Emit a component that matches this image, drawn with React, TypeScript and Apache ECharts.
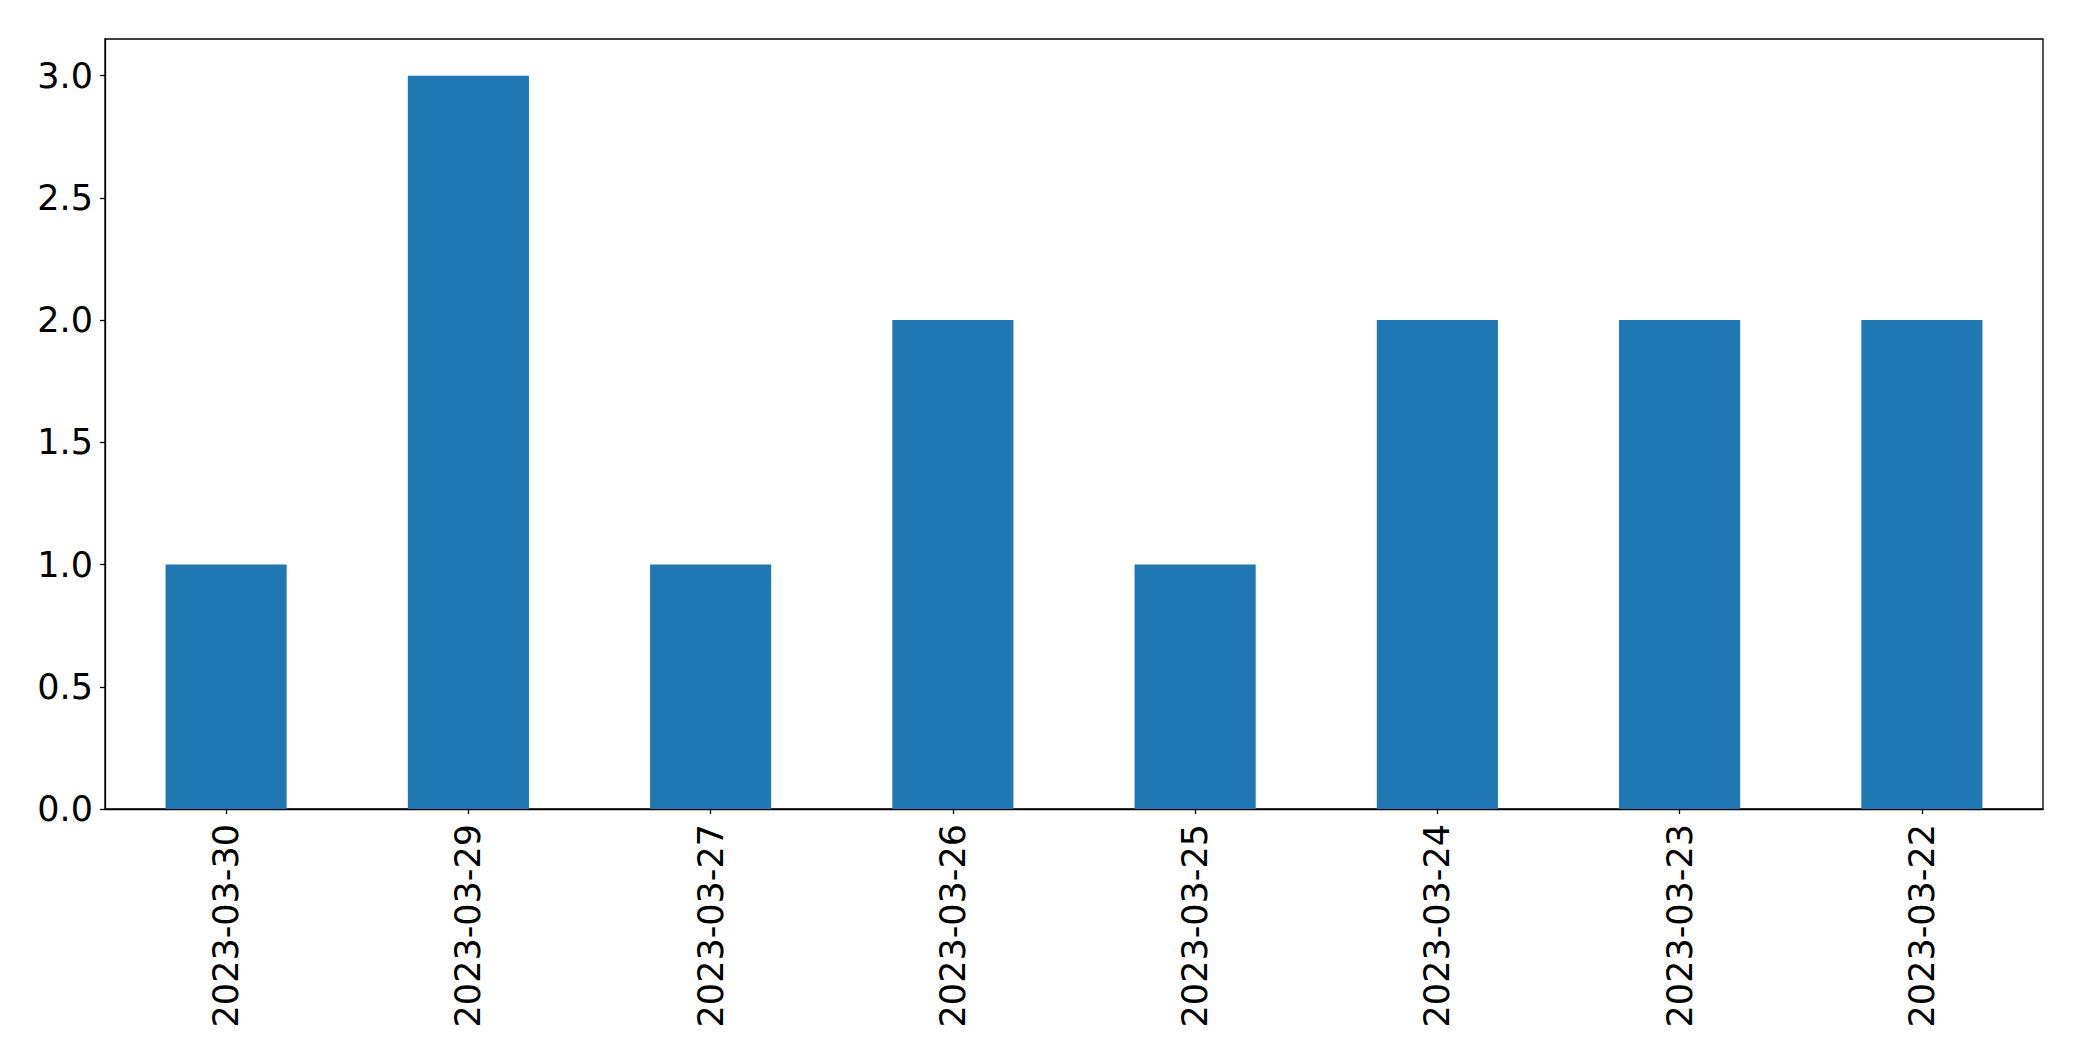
import React, { useEffect, useRef } from "react";
import * as echarts from "echarts";

const categories = [
  "2023-03-30",
  "2023-03-29",
  "2023-03-27",
  "2023-03-26",
  "2023-03-25",
  "2023-03-24",
  "2023-03-23",
  "2023-03-22",
];
const counts = [1, 3, 1, 2, 1, 2, 2, 2];
const yTicks = [0, 0.5, 1, 1.5, 2, 2.5, 3];

export default function App() {
  const ref = useRef<HTMLDivElement>(null);
  useEffect(() => {
    if (!ref.current) return;
    const chart = echarts.init(ref.current, null, { renderer: "svg" });
    const font = "DejaVu Sans";
    chart.setOption({
      animation: false,
      backgroundColor: "#ffffff",
      grid: {
        left: 105,
        right: 39,
        top: 39,
        bottom: 252,
        show: true,
        borderColor: "#000",
        borderWidth: 1.3,
        containLabel: false,
      },
      xAxis: {
        type: "category",
        data: categories,
        boundaryGap: true,
        axisLine: { show: true, lineStyle: { color: "#000", width: 1.3 } },
        axisTick: { show: true, alignWithLabel: true, length: 5, lineStyle: { color: "#000", width: 1.3 } },
        axisLabel: {
          rotate: 90,
          margin: 15,
          interval: 0,
          color: "#000",
          fontSize: 35,
          fontFamily: font,
        },
        splitLine: { show: false },
      },
      yAxis: {
        type: "value",
        min: 0,
        max: 3.15,
        interval: 0.5,
        axisLine: { show: true, lineStyle: { color: "#000", width: 1.3 } },
        axisTick: { show: true, length: 5, customValues: yTicks, lineStyle: { color: "#000", width: 1.3 } },
        axisLabel: {
          customValues: yTicks,
          margin: 12,
          color: "#000",
          fontSize: 35,
          fontFamily: font,
          formatter: (v: number) => v.toFixed(1),
        },
        splitLine: { show: false },
      },
      series: [
        {
          type: "bar",
          data: counts,
          barWidth: "50%",
          itemStyle: { color: "#1f77b4" },
        },
      ],
    });
    return () => chart.dispose();
  }, []);
  return (
    <div
      ref={ref}
      style={{ position: "fixed", left: 0, top: 0, width: 2082, height: 1061, background: "#fff" }}
    />
  );
}
